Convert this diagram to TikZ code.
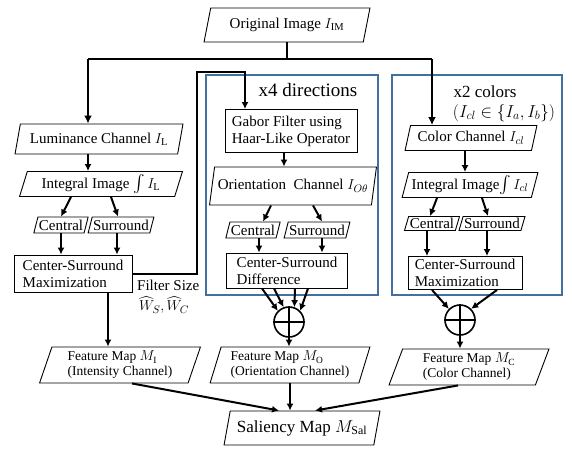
\documentclass[tikz,border=0pt]{standalone}
\usepackage{amsmath}
\usepackage{fontspec}
\setmainfont{Liberation Serif}
\usetikzlibrary{shapes.geometric,arrows.meta}
\definecolor{frameblue}{RGB}{65,113,156}

\newcommand{\bigint}{{\fontsize{19}{19}\selectfont$\int$}}

\tikzset{
  para/.style={draw, trapezium, trapezium left angle=72, trapezium right angle=108,
    trapezium stretches=true, inner sep=1pt, line width=0.9pt},
  rect/.style={draw, rectangle, align=left, inner sep=2pt, line width=0.9pt},
  flow/.style={line width=2pt, -{Latex[length=7pt,width=7pt]}},
  trunk/.style={line width=2.4pt},
  frame/.style={draw=frameblue, line width=1.6pt},
  plus/.style={draw, circle, minimum size=30pt, inner sep=0pt, line width=1.6pt},
  txt/.style={font=\fontsize{15}{17}\selectfont},
  small/.style={font=\fontsize{13.5}{15}\selectfont}
}

\begin{document}
\begin{tikzpicture}[x=1pt,y=-1pt]
\useasboundingbox (0,0) rectangle (572,448);

% blue frames
\draw[frame] (206,75) rectangle (378,295);
\draw[frame] (392,75) rectangle (562,295);
\node[font=\fontsize{19}{21}\selectfont] (dirs) at (308,90) {x4 directions};
\node[font=\fontsize{17}{19}\selectfont] (cols) at (485,92) {x2 colors};
\node[font=\fontsize{17}{19}\selectfont] (clset) at (504,113) {$(I_{cl}\in\{I_a,I_b\})$};

% top
\node[para, txt, minimum width=166, minimum height=34] (orig) at (287,25) {Original Image $I_{\mathrm{IM}}$};

% luminance column
\node[para, txt, minimum width=168, minimum height=30] (lum) at (99,139) {Luminance Channel $I_{\mathrm{L}}$};
\node[para, txt, minimum width=163, minimum height=25, inner sep=0pt] (intl) at (101,184) {Integral Image \bigint\,$I_{\mathrm{L}}$};
\node[para, txt, minimum width=54, minimum height=16] (cenl) at (61,225) {Central};
\node[para, txt, minimum width=66, minimum height=16] (surl) at (121,225) {Surround};
\node[rect, txt, minimum width=118, minimum height=37] (csml) at (73,273.5) {Center-Surround\\Maximization};
\node[txt, anchor=north west, inner sep=0pt] (fsize) at (137,280) {Filter Size};
\node[txt, anchor=north west, inner sep=0pt] (wsize) at (139,296) {$\widehat{W}_S,\widehat{W}_C$};
\node[para, small, align=left, minimum width=161, minimum height=36] (fmi) at (120,365) {Feature Map $M_{\mathrm{I}}$\\(Intensity Channel)};

% orientation column
\node[rect, txt, minimum width=132, minimum height=43] (gab) at (291,131) {Gabor Filter using\\Haar-Like Operator};
\node[para, txt, minimum width=167, minimum height=38] (ori) at (293,186) {Orientation\ \ Channel $I_{O\theta}$};
\node[para, txt, minimum width=54, minimum height=16] (cenm) at (253,230) {Central};
\node[para, txt, minimum width=66, minimum height=16] (surm) at (317,230) {Surround};
\node[rect, txt, minimum width=121, minimum height=35] (csd) at (287,270.5) {Center-Surround\\Difference};
\node[plus] (po) at (289,322) {};
\node[para, small, align=left, minimum width=160, minimum height=36] (fmo) at (290,365) {Feature Map $M_{\mathrm{O}}$\\(Orientation Channel)};

% color column
\node[para, txt, minimum width=132, minimum height=25] (col) at (471,138) {Color Channel $I_{cl}$};
\node[para, txt, minimum width=136, minimum height=25, inner sep=0pt] (intr) at (470,185) {Integral Image\bigint\,$I_{cl}$};
\node[para, txt, minimum width=55, minimum height=14] (cenr) at (432,223.5) {Central};
\node[para, txt, minimum width=65, minimum height=14] (surr) at (492,223.5) {Surround};
\node[rect, txt, minimum width=114, minimum height=33] (csmr) at (465,273) {Center-Surround\\Maximization};
\node[plus] (pc) at (460,320) {};
\node[para, small, align=left, minimum width=160, minimum height=36] (fmc) at (469,367) {Feature Map $M_{\mathrm{C}}$\\(Color Channel)};

% output
\node[para, font=\fontsize{17}{19}\selectfont, minimum width=156, minimum height=34] (sal) at (302,428) {Saliency Map $M_{\mathrm{Sal}}$};

% plus signs
\draw[line width=1.6pt] (po.north) -- (po.south) (po.west) -- (po.east);
\draw[line width=1.6pt] (pc.north) -- (pc.south) (pc.west) -- (pc.east);

% trunk from the original image
\draw[trunk] (orig.south) -- (orig.south |- 0,59) coordinate (tj);
\draw[trunk] (tj) -- (88,59) coordinate (tl);
\draw[trunk] (tj) -- (432,59) coordinate (tr);
\draw[trunk, -{Latex[length=8pt,width=8pt]}] (tl) -- (tl |- lum.north);
\draw[trunk, -{Latex[length=8pt,width=8pt]}] (tr) -- (tr |- col.north);

% luminance connectors
\draw[flow] ([xshift=-11pt]lum.south) -- ([xshift=-11pt]lum.south |- intl.north);
\draw[flow] ([xshift=-30pt]intl.south) -- (cenl.north);
\draw[flow] ([xshift=10pt]intl.south) -- ([xshift=-3pt]surl.north);
\draw[flow] (cenl.south) -- (cenl.south |- csml.north);
\draw[flow] ([xshift=-4pt]surl.south) -- ([xshift=-4pt]surl.south |- csml.north);
\draw[flow] (csml.east) -| (197,72) -| ([xshift=-46pt]gab.north);
\draw[flow] ([xshift=35pt]csml.south) -- ([xshift=35pt]csml.south |- fmi.north);

% orientation connectors
\draw[flow] ([xshift=-7pt]gab.south) -- ([xshift=-7pt]gab.south |- ori.north);
\draw[flow] ([xshift=-22pt]ori.south) -- ([xshift=10pt]cenm.north);
\draw[flow] ([xshift=20pt]ori.south) -- ([xshift=5pt]surm.north);
\draw[flow] ([xshift=6pt]cenm.south) -- ([xshift=6pt]cenm.south |- csd.north);
\draw[flow] ([xshift=5pt]surm.south) -- ([xshift=5pt]surm.south |- csd.north);
\foreach \s/\a in {-25/135, -13/110, 8/70, 21/45}
  \draw[flow] ([xshift=\s pt]csd.south) -- (po.\a);
\draw[flow] (po.south) -- (po.south |- fmo.north);

% color connectors
\draw[flow] ([xshift=-6pt]col.south) -- ([xshift=-6pt]col.south |- intr.north);
\draw[flow] ([xshift=-33pt]intr.south) -- ([xshift=-2pt]cenr.north);
\draw[flow] ([xshift=12pt]intr.south) -- ([xshift=-4pt]surr.north);
\draw[flow] ([xshift=-5pt]cenr.south) -- ([xshift=-5pt]cenr.south |- csmr.north);
\draw[flow] ([xshift=-5pt]surr.south) -- ([xshift=-5pt]surr.south |- csmr.north);
\draw[flow] ([xshift=-33pt]csmr.south) -- (pc.135);
\draw[flow] ([xshift=32pt]csmr.south) -- (pc.45);
\draw[flow] (pc.south) -- (pc.south |- fmc.north);

% to saliency map
\draw[flow] ([xshift=12pt]fmi.south) -- ([xshift=-23pt]sal.north);
\draw[flow] (fmo.south) -- (fmo.south |- sal.north);
\draw[flow] ([xshift=-11pt]fmc.south) -- ([xshift=13pt]sal.north);
\end{tikzpicture}
\end{document}
